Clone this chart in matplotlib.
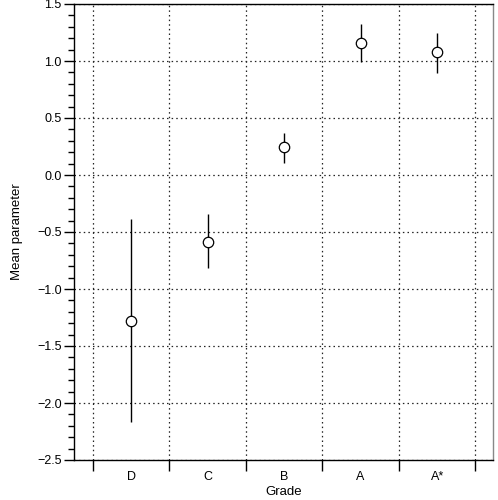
import numpy as np
import matplotlib.pyplot as plt
from matplotlib.ticker import MultipleLocator, FixedLocator

plt.rcParams['font.family'] = ['Liberation Sans', 'DejaVu Sans']

# --- chart data ---
grades = ['D', 'C', 'B', 'A', 'A*']
means = [-1.28, -0.585, 0.25, 1.16, 1.075]
upper = [-0.39, -0.345, 0.37, 1.325, 1.25]
lower = [-2.165, -0.818, 0.108, 0.994, 0.897]

x = np.arange(len(grades))
yerr = [np.array(means) - np.array(lower), np.array(upper) - np.array(means)]

fig = plt.figure(figsize=(4.98, 5.0), dpi=100)
ax = fig.add_axes([0.1486, 0.08, 0.8414, 0.912])

ax.errorbar(x, means, yerr=yerr, fmt='o', color='black', ecolor='black',
            elinewidth=1.0, capsize=0, markersize=7.5, markerfacecolor='white',
            markeredgecolor='black', markeredgewidth=0.9, zorder=3)

ax.set_xlim(-0.745, 4.73)
ax.set_ylim(-2.5, 1.5)

ax.set_xticks(x)
ax.set_xticklabels(grades)
ax.xaxis.set_minor_locator(FixedLocator(np.arange(-0.5, 5.0, 1.0)))
ax.tick_params(axis='x', which='major', length=0, pad=8, labelsize=9)
ax.tick_params(axis='x', which='minor', length=8, width=1, direction='out')

ax.yaxis.set_major_locator(MultipleLocator(0.5))
ax.yaxis.set_minor_locator(MultipleLocator(0.1))
ax.yaxis.set_major_formatter(plt.FuncFormatter(lambda v, p: f'{v:.1f}'.replace('-', '\u2212')))
ax.tick_params(axis='y', which='major', length=7, width=1, labelsize=9, pad=2)
ax.tick_params(axis='y', which='minor', length=4, width=1)

ax.grid(True, axis='x', which='minor', linestyle=(0, (1.2, 2.5)), color='#222222', linewidth=0.9)
ax.grid(True, axis='y', which='major', linestyle=(0, (1.2, 2.5)), color='#222222', linewidth=0.9)
ax.set_axisbelow(True)

for s in ax.spines.values():
    s.set_linewidth(1.0)
ax.spines['right'].set_color('#888888')

ax.set_xlabel('Grade', fontsize=9.5, labelpad=2)
ax.set_ylabel('Mean parameter', fontsize=9.5, labelpad=10)

fig.savefig('out.png', dpi=100)
